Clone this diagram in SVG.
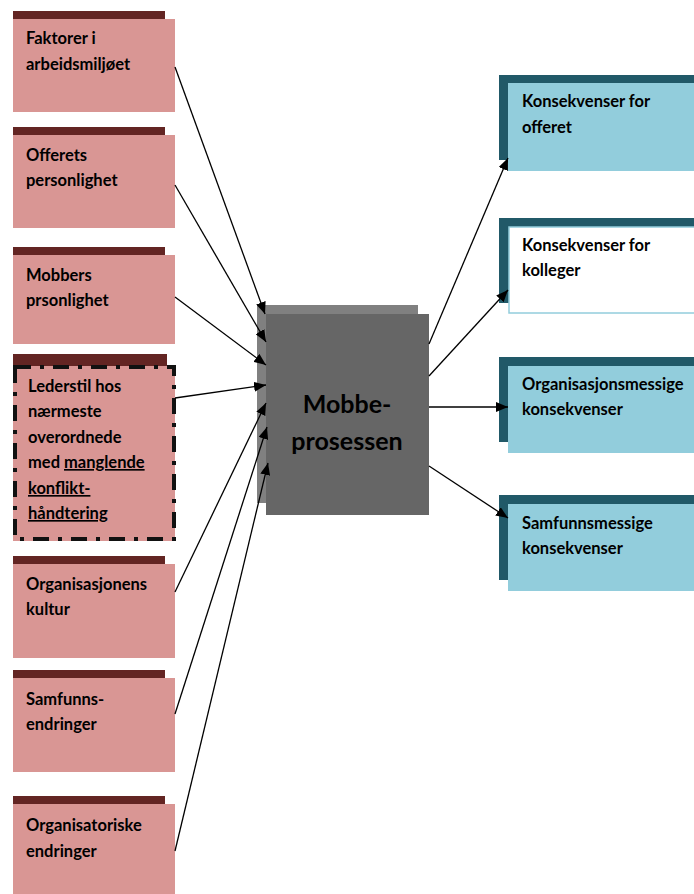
<svg xmlns="http://www.w3.org/2000/svg" width="694" height="894" viewBox="0 0 694 894">
<style>
.bar{fill:#632523}
.pink{fill:#D99694}
.t{font-family:Lato,"Liberation Sans",sans-serif;font-weight:bold;font-size:16.5px;fill:#000}
.big{font-family:Lato,"Liberation Sans",sans-serif;font-weight:bold;font-size:25px;fill:#000}
.dk{fill:#215968}
.lb{fill:#92CDDC}
.ln{stroke:#000;stroke-width:1.3;fill:none;marker-end:url(#ah)}
</style>
<defs>
<marker id="ah" viewBox="0 0 12 10" refX="12" refY="5" markerWidth="12" markerHeight="10" markerUnits="userSpaceOnUse" orient="auto">
<path d="M0,0 L12,5 L0,10 z" fill="#000"/>
</marker>
</defs>
<rect width="694" height="894" fill="#fff"/>
<g id="n1"><rect class="bar" x="13" y="11" width="152" height="9"/><rect class="pink" x="13" y="19" width="162" height="93"/><text class="t" x="26" y="44">Faktorer i</text><text class="t" x="26" y="70">arbeidsmiljøet</text></g>
<g id="n2"><rect class="bar" x="13" y="127" width="152" height="9"/><rect class="pink" x="13" y="135" width="162" height="93"/><text class="t" x="26" y="161">Offerets</text><text class="t" x="26" y="186">personlighet</text></g>
<g id="n3"><rect class="bar" x="13" y="247" width="152" height="9"/><rect class="pink" x="13" y="255" width="162" height="89"/><text class="t" x="26" y="281">Mobbers</text><text class="t" x="26" y="306">prsonlighet</text></g>
<g id="n4"><rect class="bar" x="13" y="354" width="154" height="12"/><rect class="pink" x="13" y="366" width="162" height="175"/><rect x="15" y="367" width="159" height="172" fill="none" stroke="#111" stroke-width="4" stroke-dasharray="16 9 4 9"/>
<text class="t" x="28" y="392">Lederstil hos</text><text class="t" x="28" y="417">nærmeste</text><text class="t" x="28" y="443">overordnede</text><text class="t" x="28" y="468">med <tspan text-decoration="underline">manglende</tspan></text><text class="t" x="28" y="494" text-decoration="underline">konflikt-</text><text class="t" x="28" y="519" text-decoration="underline">håndtering</text></g>
<g id="n5"><rect class="bar" x="13" y="556" width="152" height="9"/><rect class="pink" x="13" y="564" width="162" height="94"/><text class="t" x="26" y="590">Organisasjonens</text><text class="t" x="26" y="615">kultur</text></g>
<g id="n6"><rect class="bar" x="13" y="670" width="152" height="9"/><rect class="pink" x="13" y="678" width="162" height="94"/><text class="t" x="26" y="705">Samfunns-</text><text class="t" x="26" y="730">endringer</text></g>
<g id="n7"><rect class="bar" x="13" y="796" width="152" height="9"/><rect class="pink" x="13" y="804" width="162" height="90"/><text class="t" x="26" y="831">Organisatoriske</text><text class="t" x="26" y="857">endringer</text></g>
<g id="center"><rect x="257" y="305" width="161" height="198" fill="#808080"/><rect x="266" y="314" width="163" height="201" fill="#666666"/><text class="big" x="347" y="413" text-anchor="middle">Mobbe-</text><text class="big" x="347" y="450" text-anchor="middle">prosessen</text></g>
<g id="r1"><rect class="dk" x="499" y="75" width="195" height="85"/><rect class="lb" x="508" y="83" width="186" height="88"/><text class="t" x="522" y="107">Konsekvenser for</text><text class="t" x="522" y="133">offeret</text></g>
<g id="r2"><rect class="dk" x="499" y="218" width="195" height="85"/><rect x="509" y="227" width="186" height="86" fill="#fff" stroke="#92CDDC" stroke-width="1.5"/><text class="t" x="522" y="251">Konsekvenser for</text><text class="t" x="522" y="276">kolleger</text></g>
<g id="r3"><rect class="dk" x="499" y="357" width="195" height="85"/><rect class="lb" x="508" y="366" width="186" height="87"/><text class="t" x="522" y="390">Organisasjonsmessige</text><text class="t" x="522" y="415">konsekvenser</text></g>
<g id="r4"><rect class="dk" x="499" y="495" width="195" height="85"/><rect class="lb" x="508" y="504" width="186" height="87"/><text class="t" x="522" y="529">Samfunnsmessige</text><text class="t" x="522" y="554">konsekvenser</text></g>
<g id="connectors">
<line class="ln" x1="175" y1="67" x2="265" y2="314"/>
<line class="ln" x1="175" y1="185" x2="266" y2="342"/>
<line class="ln" x1="175" y1="297" x2="266" y2="365"/>
<line class="ln" x1="175" y1="398" x2="266" y2="385"/>
<line class="ln" x1="175" y1="592" x2="266" y2="403"/>
<line class="ln" x1="175" y1="714" x2="267" y2="427"/>
<line class="ln" x1="175" y1="851" x2="268" y2="463"/>
<line class="ln" x1="429" y1="344" x2="508" y2="158"/>
<line class="ln" x1="429" y1="376" x2="508" y2="290"/>
<line class="ln" x1="429" y1="407" x2="508" y2="407"/>
<line class="ln" x1="429" y1="466" x2="508" y2="518"/>
</g>
</svg>
